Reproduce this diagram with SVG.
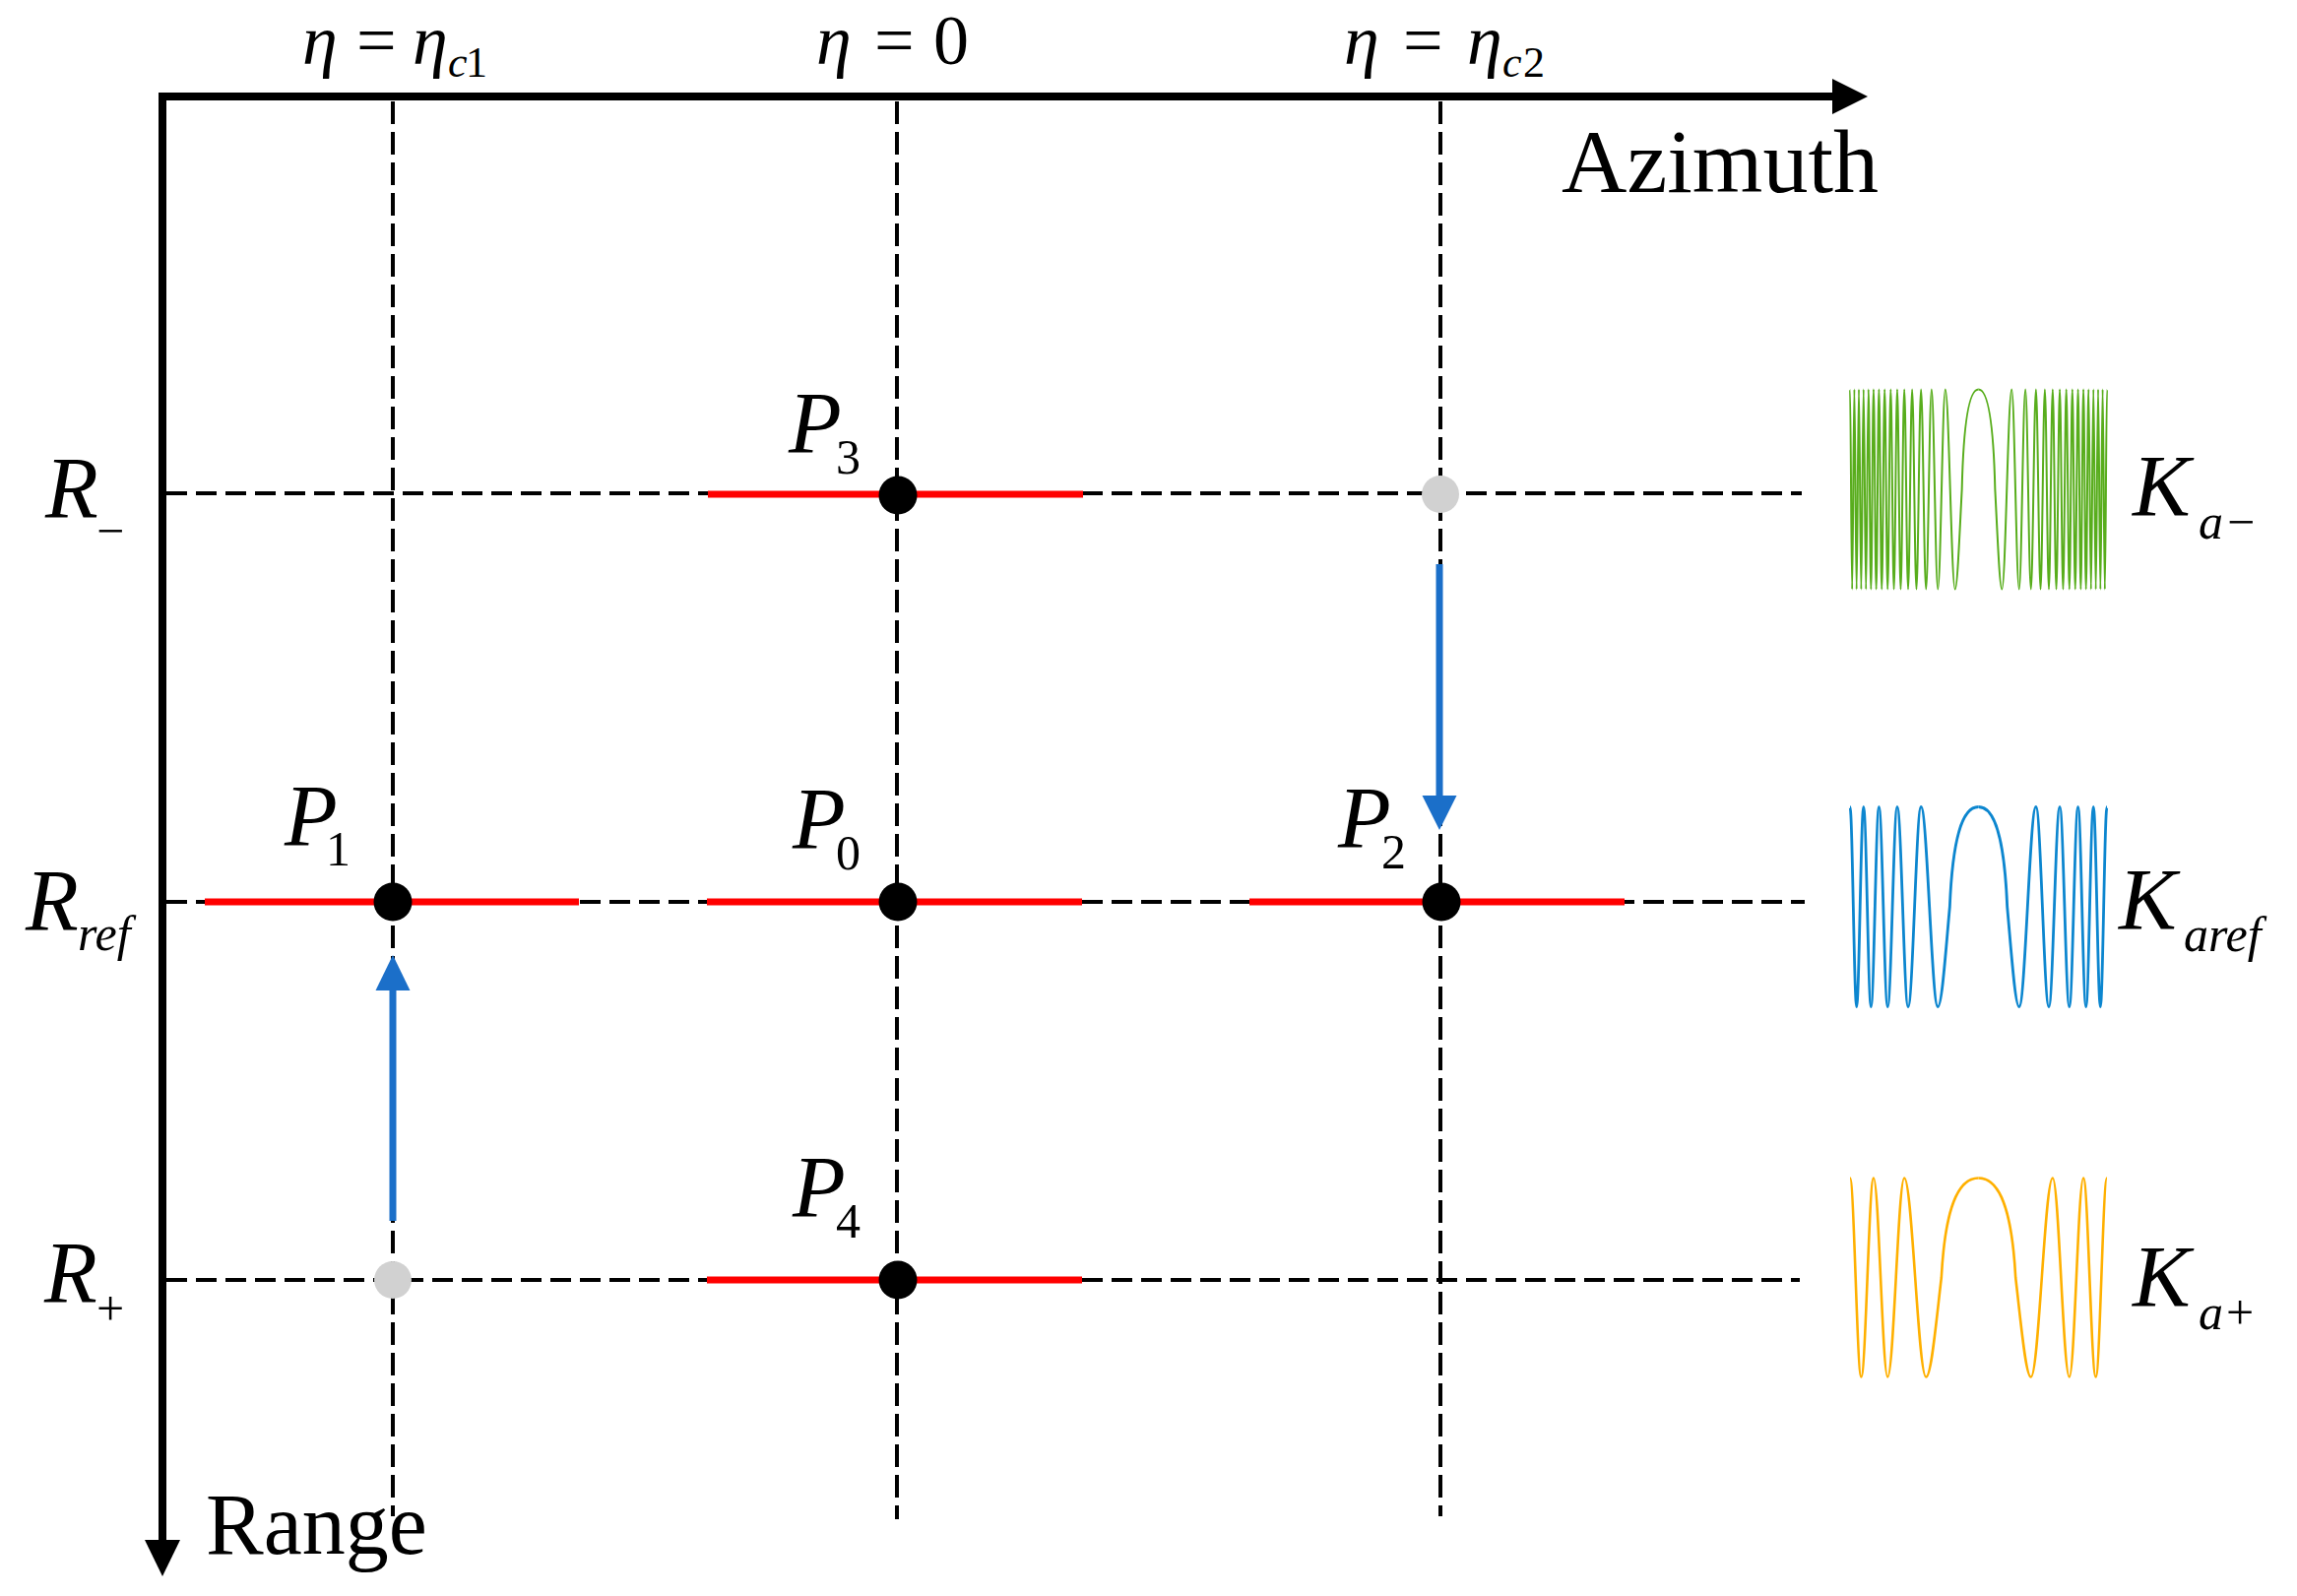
<svg xmlns="http://www.w3.org/2000/svg" xmlns:xlink="http://www.w3.org/1999/xlink" width="2333" height="1621" viewBox="0 0 2333 1621">
<style>
.dh{stroke:#000;stroke-width:4;stroke-dasharray:21 9;fill:none}
.dv{stroke:#000;stroke-width:4;stroke-dasharray:23 8;fill:none}
.red{stroke:#ff0000;stroke-width:7;fill:none}
.dot{fill:#000}
.ghost{fill:#d1d1d1}
.blue{stroke:#1b6fc9;stroke-width:7;fill:none}
.bluefill{fill:#1b6fc9}
.it{font-family:"Liberation Serif","Times New Roman",serif;font-style:italic;fill:#000}
.rm{font-family:"Liberation Serif","Times New Roman",serif;fill:#000}
.chirp{fill:none;vector-effect:non-scaling-stroke}
</style>
<defs>
<path id="c6" class="chirp" d="M0,-1 C0.4,-1 0.637,-0.689 0.7071,0 C0.807,0.444 0.9,1 1,1 C1.15053,1 1.26368,-1 1.41421,-1 C1.52971,-1 1.61655,1 1.73205,1 C1.82942,1 1.90263,-1 2,-1 C2.08579,-1 2.15028,1 2.23607,1 C2.31363,1 2.37193,-1 2.44949,-1"/>
<path id="c10" class="chirp" d="M0,-1 C0.4,-1 0.637,-0.689 0.7071,0 C0.807,0.444 0.9,1 1,1 C1.15053,1 1.26368,-1 1.41421,-1 C1.52971,-1 1.61655,1 1.73205,1 C1.82942,1 1.90263,-1 2,-1 C2.08579,-1 2.15028,1 2.23607,1 C2.31363,1 2.37193,-1 2.44949,-1 C2.52081,-1 2.57443,1 2.64575,1 C2.71214,1 2.76204,-1 2.82843,-1 C2.89078,-1 2.93765,1 3,1 C3.05897,1 3.10331,-1 3.16228,-1"/>
<path id="c30" class="chirp" d="M0,-1 C0.4,-1 0.637,-0.689 0.7071,0 C0.807,0.444 0.9,1 1,1 C1.15053,1 1.26368,-1 1.41421,-1 C1.52971,-1 1.61655,1 1.73205,1 C1.82942,1 1.90263,-1 2,-1 C2.08579,-1 2.15028,1 2.23607,1 C2.31363,1 2.37193,-1 2.44949,-1 C2.52081,-1 2.57443,1 2.64575,1 C2.71214,1 2.76204,-1 2.82843,-1 C2.89078,-1 2.93765,1 3,1 C3.05897,1 3.10331,-1 3.16228,-1 C3.21837,-1 3.26053,1 3.31662,1 C3.37021,1 3.41051,-1 3.46410,-1 C3.51550,-1 3.55415,1 3.60555,1 C3.65501,1 3.69220,-1 3.74166,-1 C3.78938,-1 3.82526,1 3.87298,1 C3.91914,1 3.95384,-1 4,-1 C4.04474,-1 4.07837,1 4.12311,1 C4.16655,1 4.19920,-1 4.24264,-1 C4.28489,-1 4.31665,1 4.35890,1 C4.40005,1 4.43099,-1 4.47214,-1 C4.51227,-1 4.54245,1 4.58258,1 C4.62177,1 4.65123,-1 4.69042,-1 C4.72873,-1 4.75752,1 4.79583,1 C4.83331,1 4.86150,-1 4.89898,-1 C4.93569,-1 4.96329,1 5,1 C5.03598,1 5.06304,-1 5.09902,-1 C5.13432,-1 5.16085,1 5.19615,1 C5.23080,1 5.25685,-1 5.29150,-1 C5.32554,-1 5.35112,1 5.38516,1 C5.41862,1 5.44377,-1 5.47723,-1"/>
</defs>
<rect width="2333" height="1621" fill="#fff"/>

<g id="grid">
<line class="dv" x1="399" y1="103" x2="399" y2="1540"/>
<line class="dv" x1="911" y1="103" x2="911" y2="1543"/>
<line class="dv" x1="1463" y1="103" x2="1463" y2="1540"/>
<line class="dh" x1="169" y1="501" x2="1830" y2="501"/>
<line class="dh" x1="169" y1="916" x2="1833" y2="916"/>
<line class="dh" x1="169" y1="1300" x2="1828" y2="1300"/>
</g>

<g id="axes">
<path d="M165,1566 V98 H1864" fill="none" stroke="#000" stroke-width="8" stroke-linejoin="miter"/>
<polygon points="1897,98 1861,80 1861,116" fill="#000"/>
<polygon points="165,1601 147,1564 183,1564" fill="#000"/>
<text class="rm" font-size="92" x="1586" y="195">Azimuth</text>
<text class="rm" font-size="88" x="209" y="1578">Range</text>
</g>

<g id="eta-labels">
<text class="it" font-size="72" x="307" y="65">η</text>
<text class="rm" font-size="72" x="362" y="65">=</text>
<text class="it" font-size="72" x="419" y="65">η</text>
<text class="it" font-size="44" x="455" y="78">c</text>
<text class="rm" font-size="44" x="473" y="78">1</text>
<text class="it" font-size="72" x="829" y="65">η</text>
<text class="rm" font-size="72" x="888" y="65">=</text>
<text class="rm" font-size="72" x="948" y="65">0</text>
<text class="it" font-size="72" x="1365" y="65">η</text>
<text class="rm" font-size="72" x="1425" y="65">=</text>
<text class="it" font-size="72" x="1490" y="65">η</text>
<text class="it" font-size="44" x="1526" y="78">c</text>
<text class="rm" font-size="44" x="1547" y="78">2</text>
</g>

<g id="range-labels">
<text class="it" font-size="88" x="46" y="525">R</text>
<text class="rm" font-size="50" x="98" y="556">−</text>
<text class="it" font-size="88" x="26" y="944">R</text>
<text class="it" font-size="50" x="79" y="965">ref</text>
<text class="it" font-size="88" x="45" y="1322">R</text>
<text class="rm" font-size="50" x="98" y="1346">+</text>
</g>

<g id="connectors">
<line class="blue" x1="399" y1="1240" x2="399" y2="1000"/>
<polygon class="bluefill" points="399,970 381.5,1006 416.5,1006"/>
<line class="blue" x1="1462" y1="573" x2="1462" y2="814"/>
<polygon class="bluefill" points="1462,843 1444.5,808 1479.5,808"/>
</g>

<g id="ghost-R-minus"><circle class="ghost" cx="1463" cy="502" r="19"/></g>
<g id="ghost-R-plus"><circle class="ghost" cx="399" cy="1300" r="19"/></g>

<g id="P3">
<line class="red" x1="719" y1="502" x2="1100" y2="502"/>
<circle class="dot" cx="912" cy="503" r="19.5"/>
<text class="it" font-size="88" x="801" y="459">P</text>
<text class="rm" font-size="50" x="849" y="481">3</text>
</g>
<g id="P1">
<line class="red" x1="208" y1="916" x2="588" y2="916"/>
<circle class="dot" cx="399" cy="916" r="19.5"/>
<text class="it" font-size="88" x="289" y="858">P</text>
<text class="rm" font-size="50" x="331" y="879">1</text>
</g>
<g id="P0">
<line class="red" x1="718" y1="916" x2="1099" y2="916"/>
<circle class="dot" cx="912" cy="916" r="19.5"/>
<text class="it" font-size="88" x="805" y="861">P</text>
<text class="rm" font-size="50" x="849" y="883">0</text>
</g>
<g id="P2">
<line class="red" x1="1269" y1="916" x2="1650" y2="916"/>
<circle class="dot" cx="1464" cy="916" r="19.5"/>
<text class="it" font-size="88" x="1359" y="860">P</text>
<text class="rm" font-size="50" x="1403" y="882">2</text>
</g>
<g id="P4">
<line class="red" x1="718" y1="1300" x2="1099" y2="1300"/>
<circle class="dot" cx="912" cy="1300" r="19.5"/>
<text class="it" font-size="88" x="805" y="1235">P</text>
<text class="rm" font-size="50" x="849" y="1257">4</text>
</g>

<g id="chirp-Ka-minus" stroke="#58ad1c" stroke-width="2" transform="translate(2009.5,497)">
<use href="#c30" xlink:href="#c30" transform="scale(23.83,101.5)"/>
<use href="#c30" xlink:href="#c30" transform="scale(-23.83,101.5)"/>
</g>
<g id="label-Ka-minus">
<text class="it" font-size="88" x="2166" y="523">K</text>
<text class="it" font-size="50" x="2233" y="547">a</text>
<text class="rm" font-size="50" x="2262" y="547">−</text>
</g>

<g id="chirp-Karef" stroke="#0c86cf" stroke-width="2.8" transform="translate(2009.5,921)">
<use href="#c10" xlink:href="#c10" transform="scale(41.27,101.5)"/>
<use href="#c10" xlink:href="#c10" transform="scale(-41.27,101.5)"/>
</g>
<g id="label-Karef">
<text class="it" font-size="88" x="2152" y="943">K</text>
<text class="it" font-size="50" x="2218" y="966">aref</text>
</g>

<g id="chirp-Ka-plus" stroke="#ffb000" stroke-width="2.6" transform="translate(2009.5,1297.5)">
<use href="#c6" xlink:href="#c6" transform="scale(53.28,101)"/>
<use href="#c6" xlink:href="#c6" transform="scale(-53.28,101)"/>
</g>
<g id="label-Ka-plus">
<text class="it" font-size="88" x="2166" y="1326">K</text>
<text class="it" font-size="50" x="2233" y="1350">a</text>
<text class="rm" font-size="50" x="2261" y="1350">+</text>
</g>
</svg>
